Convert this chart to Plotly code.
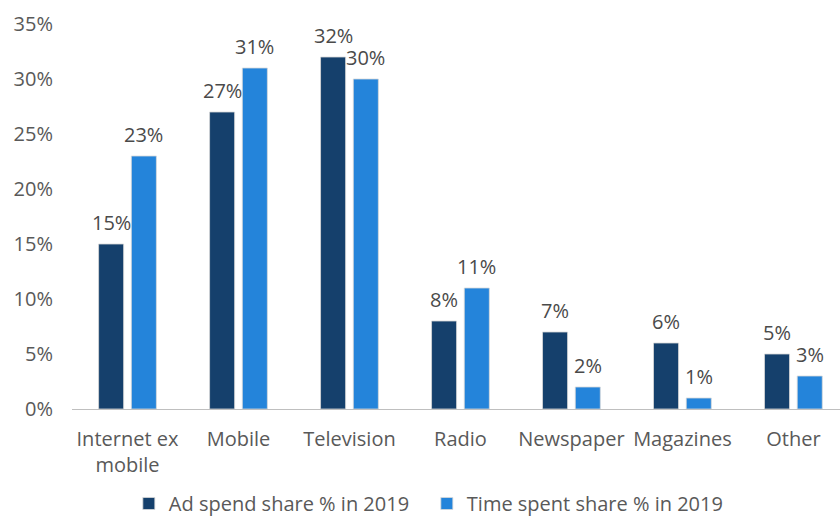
import plotly.graph_objects as go

categories = ["Internet ex<br>mobile", "Mobile", "Television", "Radio", "Newspaper", "Magazines", "Other"]
ad_spend = [15, 27, 32, 8, 7, 6, 5]
time_spent = [23, 31, 30, 11, 2, 1, 3]
tick_vals = [0, 5, 10, 15, 20, 25, 30, 35]
tick_text = [f"{v}%" for v in tick_vals]

NAVY = "#15406c"
BLUE = "#2484da"
FONT = "Open Sans"
TICK_COLOR = "#595959"
LABEL_COLOR = "#4a4a4a"

# pixel offset of each bar centre from its category centre (grouped bars)
BAR_SHIFT = 16.4

series = [
    ("Ad spend share % in 2019", ad_spend, NAVY, -BAR_SHIFT),
    ("Time spent share % in 2019", time_spent, BLUE, BAR_SHIFT),
]

fig = go.Figure()
for name, vals, color, shift in series:
    fig.add_trace(go.Bar(
        x=categories, y=vals, name=name,
        marker=dict(color=color, line=dict(color="#d9d9d9", width=0.8)),
    ))
    # value labels above each bar
    for cat, v in zip(categories, vals):
        fig.add_annotation(
            x=cat, y=v, xref="x", yref="y", text=f"{v}%",
            showarrow=False, xshift=shift, yanchor="bottom", yshift=6,
            font=dict(family=FONT, size=20, color=LABEL_COLOR),
        )

fig.update_layout(
    width=840, height=518,
    margin=dict(l=72, r=0, t=24, b=109),
    paper_bgcolor="white", plot_bgcolor="white",
    barmode="group", bargap=0.41, bargroupgap=0.235,
    font=dict(family=FONT, size=20, color=TICK_COLOR),
    showlegend=True,
    legend=dict(
        orientation="h", x=0.074, xanchor="left",
        yref="container", y=0.028, yanchor="middle",
        font=dict(family=FONT, size=20, color=TICK_COLOR),
        entrywidth=253, entrywidthmode="pixels",
    ),
)
fig.update_xaxes(
    range=[-0.5, 6.42], showline=True, linecolor="#bfbfbf", linewidth=1,
    ticks="", showgrid=False, automargin=False, ticklabelstandoff=12,
    tickfont=dict(family=FONT, size=20, color=TICK_COLOR),
)
fig.update_yaxes(
    range=[0, 35], tickvals=tick_vals, ticktext=tick_text,
    showgrid=False, zeroline=False, showline=False, ticks="",
    automargin=False, ticklabelstandoff=18,
    tickfont=dict(family=FONT, size=20, color=TICK_COLOR),
)

fig.write_html("out.html")
